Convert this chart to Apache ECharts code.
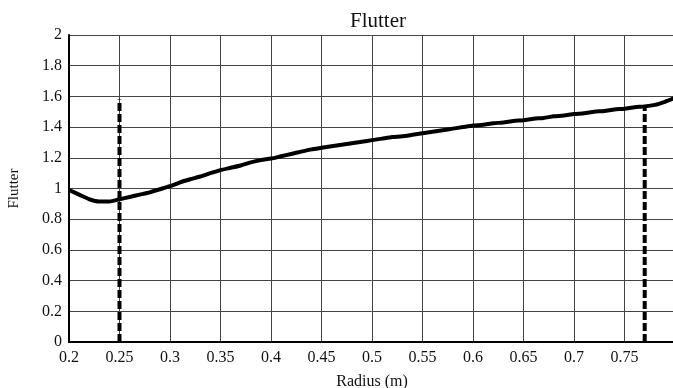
<!DOCTYPE html>
<html>
<head>
<meta charset="utf-8">
<script src="https://cdn.jsdelivr.net/npm/echarts@6/dist/echarts.min.js"></script>
<style>
  html, body { margin: 0; padding: 0; background: #fff; }
  #chart { width: 673px; height: 388px; }
</style>
</head>
<body>
<div id="chart"></div>
<script>
// radius (m) samples and the flutter values
const radius = [
  0.20, 0.21, 0.22, 0.23, 0.24, 0.25, 0.26, 0.27, 0.28, 0.29,
  0.30, 0.31, 0.32, 0.33, 0.34, 0.35, 0.36, 0.37, 0.38, 0.39,
  0.40, 0.41, 0.42, 0.43, 0.44, 0.45, 0.46, 0.47, 0.48, 0.49,
  0.50, 0.51, 0.52, 0.53, 0.54, 0.55, 0.56, 0.57, 0.58, 0.59,
  0.60, 0.61, 0.62, 0.63, 0.64, 0.65, 0.66, 0.67, 0.68, 0.69,
  0.70, 0.71, 0.72, 0.73, 0.74, 0.75, 0.76, 0.77, 0.78, 0.79, 0.80
];
const flutter = [
  0.99, 0.96, 0.93, 0.915, 0.915, 0.93, 0.945, 0.96, 0.975, 0.995,
  1.015, 1.04, 1.06, 1.078, 1.10, 1.12, 1.135, 1.15, 1.17, 1.185,
  1.195, 1.21, 1.225, 1.24, 1.255, 1.265, 1.275, 1.285, 1.295, 1.305,
  1.315, 1.325, 1.335, 1.34, 1.35, 1.36, 1.37, 1.38, 1.39, 1.40,
  1.41, 1.415, 1.425, 1.43, 1.44, 1.445, 1.455, 1.46, 1.47, 1.475,
  1.485, 1.49, 1.50, 1.505, 1.515, 1.52, 1.53, 1.535, 1.545, 1.565, 1.59
];

// vertical dashed limits: [radius, top value]
const innerLimit = [0.25, 1.58];
const outerLimit = [0.77, 1.53];

const serif = "Liberation Serif";

const chart = echarts.init(document.getElementById("chart"));

const option = {
  animation: false,
  backgroundColor: "#fff",
  title: {
    text: "Flutter",
    left: 373,
    textAlign: "center",
    top: 6,
    textStyle: { fontFamily: serif, fontSize: 21, fontWeight: "normal", color: "#111" }
  },
  grid: { left: 69, top: 35, width: 606, height: 307, outerBoundsMode: "none" },
  xAxis: {
    type: "value",
    min: 0.2,
    max: 0.8,
    interval: 0.05,
    name: "Radius (m)",
    nameLocation: "middle",
    nameGap: 32,
    nameTextStyle: { fontFamily: serif, fontSize: 16, color: "#111" },
    axisLine: { show: true, onZero: false, lineStyle: { color: "#000", width: 2 } },
    axisTick: { show: false },
    axisLabel: {
      fontFamily: serif, fontSize: 16, color: "#111", margin: 8,
      showMaxLabel: false
    },
    splitLine: { show: true, lineStyle: { color: "#444", width: 1 } }
  },
  yAxis: {
    type: "value",
    min: 0,
    max: 2,
    interval: 0.2,
    name: "Flutter",
    nameLocation: "middle",
    nameGap: 47,
    nameTextStyle: { fontFamily: serif, fontSize: 15, color: "#111" },
    axisLine: { show: true, lineStyle: { color: "#000", width: 2 } },
    axisTick: { show: false },
    axisLabel: { fontFamily: serif, fontSize: 16, color: "#111", margin: 7 },
    splitLine: { show: true, lineStyle: { color: "#444", width: 1 } }
  },
  series: [
    {
      type: "line",
      data: radius.map((r, i) => [r, flutter[i]]),
      showSymbol: false,
      smooth: 0.2,
      lineStyle: { color: "#000", width: 4 },
      z: 3
    },
    {
      type: "line",
      data: [[innerLimit[0], 0], [innerLimit[0], innerLimit[1]]],
      showSymbol: false,
      lineStyle: { color: "#000", width: 4, type: [8, 3] },
      z: 4
    },
    {
      type: "line",
      data: [[outerLimit[0], 0], [outerLimit[0], outerLimit[1]]],
      showSymbol: false,
      lineStyle: { color: "#000", width: 4, type: [8, 3] },
      z: 4
    }
  ]
};

chart.setOption(option);
</script>
</body>
</html>
